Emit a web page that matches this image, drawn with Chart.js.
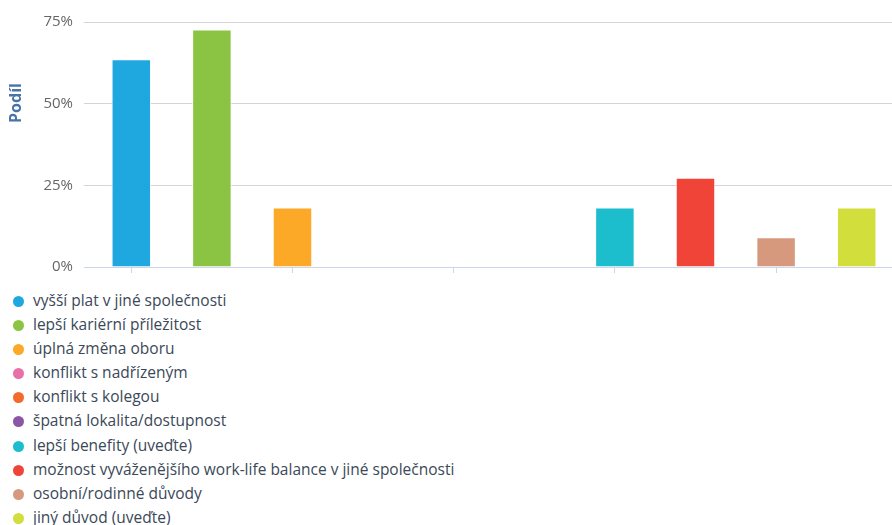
<!DOCTYPE html>
<html lang="cs">
<head>
<meta charset="utf-8">
<title>Podíl důvodů odchodu</title>
<script src="https://cdn.jsdelivr.net/npm/chart.js@4/dist/chart.umd.min.js"></script>
<style>
  html, body { margin: 0; padding: 0; background: #fff; overflow: hidden; width: 892px; height: 525px; }
  #wrap { position: relative; width: 892px; height: 525px; }
  #c-duvody { position: absolute; left: 0; top: 0; }
  #legenda { position: absolute; left: 13px; top: 288px; margin: 0; padding: 0; list-style: none;
             font: 15.5px "Open Sans", sans-serif; color: #3b4858; }
  #legenda li { height: 24.1px; line-height: 24.1px; white-space: nowrap; }
  #legenda .dot { display: inline-block; width: 11px; height: 11px; border-radius: 50%;
                  margin-right: 9px; vertical-align: -1px; }
</style>
</head>
<body>
<div id="wrap">
  <canvas id="c-duvody" width="900" height="287" role="img" aria-label="Podíl důvodů"></canvas>
  <ul id="legenda"></ul>
</div>
<script>
const kategorie = [
  'vyšší plat v jiné společnosti',
  'lepší kariérní příležitost',
  'úplná změna oboru',
  'konflikt s nadřízeným',
  'konflikt s kolegou',
  'špatná lokalita/dostupnost',
  'lepší benefity (uveďte)',
  'možnost vyváženějšího work-life balance v jiné společnosti',
  'osobní/rodinné důvody',
  'jiný důvod (uveďte)',
];
const podil = [63.6, 72.7, 18.2, 0, 0, 0, 18.2, 27.3, 9.1, 18.2];
const barvy = ['#1fa8e0', '#8bc443', '#fba927', '#e96fa9', '#f36a2a', '#8c55a5', '#1cbece', '#f04438', '#d6997d', '#d1de3b'];
const osaY = [0, 25, 50, 75];

const tc  = '#666666';
const grd = '#d4d4d4';
const osa = '#ccd6eb';

// y-axis title sits above the vertical middle, so it is drawn by hand
const titulekY = {
  id: 'titulekY',
  afterDraw(chart) {
    const cx = chart.ctx;
    cx.save();
    cx.translate(16, 103);
    cx.rotate(-Math.PI / 2);
    cx.fillStyle = '#4a74a8';
    cx.font = 'bold 16px "Open Sans", sans-serif';
    cx.textAlign = 'center';
    cx.textBaseline = 'middle';
    cx.fillText('Podíl', 0, 0);
    cx.restore();
  },
};

const graf = new Chart(document.getElementById('c-duvody'), {
  type: 'bar',
  data: {
    labels: kategorie,
    datasets: [{
      data: podil,
      backgroundColor: barvy,
      borderColor: '#ffffff',
      borderWidth: 1,
      categoryPercentage: 1,
      barPercentage: 0.49,
    }],
  },
  options: {
    responsive: false,
    animation: false,
    layout: { padding: { top: 22, right: 3, bottom: 1, left: 0 } },
    plugins: { legend: { display: false }, tooltip: { enabled: false } },
    scales: {
      x: {
        offset: true,
        ticks: { display: false },
        grid: {
          offset: false,
          drawOnChartArea: false,
          tickLength: 6,
          tickColor: c => (c.index % 2 === 0 ? osa : 'rgba(0,0,0,0)'),
        },
        border: { color: osa },
      },
      y: {
        min: osaY[0],
        max: osaY[osaY.length - 1],
        afterBuildTicks: s => { s.ticks = osaY.map(v => ({ value: v })); },
        afterFit: s => { s.width = 91; },
        ticks: { color: tc, font: { family: 'Open Sans', size: 15 }, padding: 11, callback: v => v + '%' },
        grid: { color: c => (c.tick && c.tick.value === 0 ? osa : grd), tickLength: 7 },
        border: { display: false },
      },
    },
  },
  plugins: [titulekY],
});

// legend as a vertical list under the chart
const ul = document.getElementById('legenda');
graf.data.labels.forEach((l, i) => {
  const li = document.createElement('li');
  li.innerHTML = `<span class="dot" style="background:${barvy[i]}"></span>${l}`;
  ul.appendChild(li);
});
</script>
</body>
</html>
